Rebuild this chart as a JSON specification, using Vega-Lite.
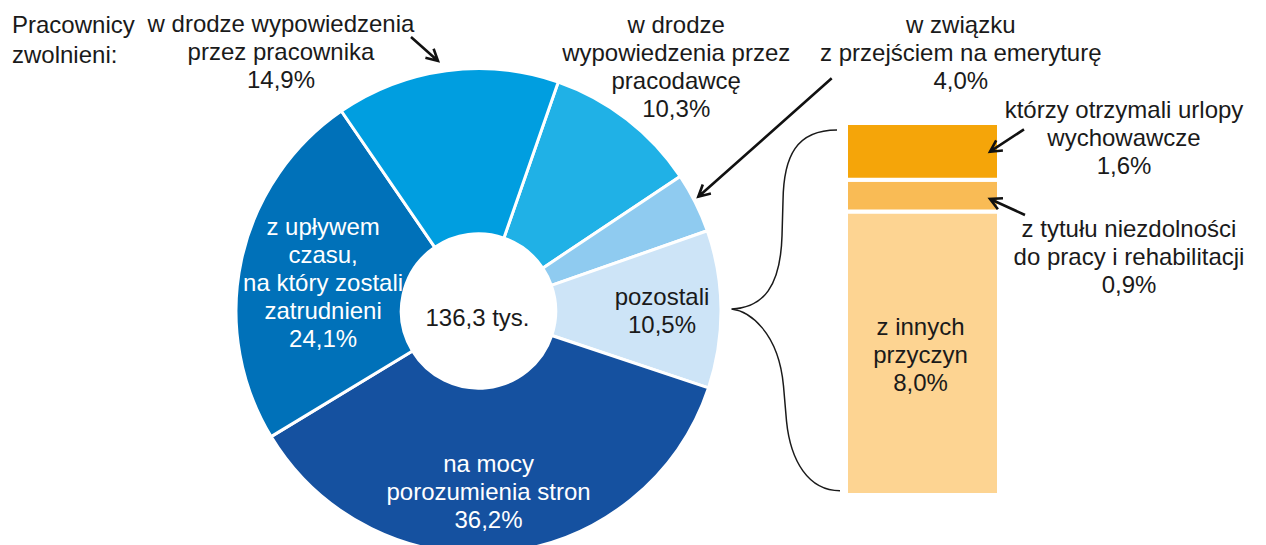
{
  "$schema": "https://vega.github.io/schema/vega-lite/v6.json",
  "width": 957,
  "height": 622,
  "padding": {"left": 0, "top": 0, "right": 309, "bottom": 0},
  "autosize": {"type": "none"},
  "background": "white",
  "config": {
    "view": {"stroke": null},
    "font": "Liberation Sans",
    "text": {"font": "Liberation Sans", "fontSize": 24, "lineHeight": 28, "lineBreak": "\n", "fill": "#1a1a1a", "baseline": "alphabetic", "align": "center"}
  },
  "datasets": {
    "ring": [
      {"rank": 1, "category": "w drodze wypowiedzenia przez pracodawcę", "share": 10.3, "label": "w drodze\nwypowiedzenia przez\npracodawcę\n10,3%"},
      {"rank": 2, "category": "w związku z przejściem na emeryturę", "share": 4.0, "label": "w związku\nz przejściem na emeryturę\n4,0%"},
      {"rank": 3, "category": "pozostali", "share": 10.5, "label": "pozostali\n10,5%"},
      {"rank": 4, "category": "na mocy porozumienia stron", "share": 36.2, "label": "na mocy\nporozumienia stron\n36,2%"},
      {"rank": 5, "category": "z upływem czasu, na który zostali zatrudnieni", "share": 24.1, "label": "z upływem\nczasu,\nna który zostali\nzatrudnieni\n24,1%"},
      {"rank": 6, "category": "w drodze wypowiedzenia przez pracownika", "share": 14.9, "label": "w drodze wypowiedzenia\nprzez pracownika\n14,9%"}
    ],
    "breakdown": [
      {"rank": 1, "group": "pozostali", "reason": "z innych przyczyn", "share": 8.0, "label": "z innych\nprzyczyn\n8,0%"},
      {"rank": 2, "group": "pozostali", "reason": "z tytułu niezdolności do pracy i rehabilitacji", "share": 0.9, "label": "z tytułu niezdolności\ndo pracy i rehabilitacji\n0,9%"},
      {"rank": 3, "group": "pozostali", "reason": "którzy otrzymali urlopy wychowawcze", "share": 1.6, "label": "którzy otrzymali urlopy\nwychowawcze\n1,6%"}
    ],
    "summary": [{"heading": "Pracownicy\nzwolnieni:", "total": "136,3 tys."}],
    "pointers": [
      {"pointer": "pracownik"},
      {"pointer": "emerytura"},
      {"pointer": "urlop"},
      {"pointer": "niezdolność"}
    ]
  },
  "layer": [
    {
      "data": {"name": "ring"},
      "encoding": {
        "theta": {"field": "share", "type": "quantitative", "stack": true, "scale": {"range": [0.3351, 6.6183]}},
        "order": {"field": "rank", "type": "quantitative"}
      },
      "layer": [
        {
          "mark": {"type": "arc", "outerRadius": 242.5, "innerRadius": 77.2, "stroke": "white", "strokeWidth": 3},
          "encoding": {
            "color": {
              "field": "category", "type": "nominal", "legend": null,
              "scale": {
                "domain": ["w drodze wypowiedzenia przez pracodawcę", "w związku z przejściem na emeryturę", "pozostali", "na mocy porozumienia stron", "z upływem czasu, na który zostali zatrudnieni", "w drodze wypowiedzenia przez pracownika"],
                "range": ["#20B1E6", "#8FCBF0", "#CDE4F7", "#1551A0", "#0071B9", "#009EE0"]
              }
            }
          }
        },
        {
          "mark": {"type": "text", "radius": 323, "dx": 0, "dy": -22.6},
          "encoding": {"text": {"condition": {"test": "datum.rank === 1", "field": "label", "type": "nominal"}, "value": ""}}
        },
        {
          "mark": {"type": "text", "radius": 539, "dx": 0, "dy": -37.3},
          "encoding": {"text": {"condition": {"test": "datum.rank === 2", "field": "label", "type": "nominal"}, "value": ""}}
        },
        {
          "mark": {"type": "text", "radius": 183.5, "dx": 0, "dy": -4.7},
          "encoding": {"text": {"condition": {"test": "datum.rank === 3", "field": "label", "type": "nominal"}, "value": ""}}
        },
        {
          "mark": {"type": "text", "radius": 179, "dx": -9.8, "dy": -16.9, "fill": "white"},
          "encoding": {"text": {"condition": {"test": "datum.rank === 4", "field": "label", "type": "nominal"}, "value": ""}}
        },
        {
          "mark": {"type": "text", "radius": 159, "dx": 0, "dy": -42.5, "fill": "white"},
          "encoding": {"text": {"condition": {"test": "datum.rank === 5", "field": "label", "type": "nominal"}, "value": ""}}
        },
        {
          "mark": {"type": "text", "radius": 265, "dx": -162.4, "dy": -16.3},
          "encoding": {"text": {"condition": {"test": "datum.rank === 6", "field": "label", "type": "nominal"}, "value": ""}}
        }
      ]
    },
    {
      "data": {"name": "breakdown"},
      "encoding": {
        "x": {"field": "group", "type": "nominal", "axis": null, "scale": {"type": "band", "range": [846, 999], "paddingInner": 0, "paddingOuter": 0}},
        "y": {"field": "share", "type": "quantitative", "stack": "zero", "axis": null, "scale": {"domain": [0, 10.5], "range": [495, 123], "nice": false}},
        "order": {"field": "rank", "type": "quantitative"}
      },
      "layer": [
        {
          "mark": {"type": "bar", "stroke": "white", "strokeWidth": 4},
          "encoding": {
            "color": {
              "field": "reason", "type": "nominal", "legend": null,
              "scale": {
                "domain": ["z innych przyczyn", "z tytułu niezdolności do pracy i rehabilitacji", "którzy otrzymali urlopy wychowawcze"],
                "range": ["#FDD492", "#F9BB55", "#F5A509"]
              }
            }
          }
        },
        {
          "mark": {"type": "text", "dx": -2, "dy": -18.3},
          "encoding": {
            "y": {"field": "share", "type": "quantitative", "stack": "zero", "bandPosition": 0.5, "axis": null, "scale": {"domain": [0, 10.5], "range": [495, 123], "nice": false}},
            "text": {"condition": {"test": "datum.rank === 1", "field": "label", "type": "nominal"}, "value": ""}
          }
        },
        {
          "mark": {"type": "text", "dx": 206.5, "dy": 41.4},
          "encoding": {
            "y": {"field": "share", "type": "quantitative", "stack": "zero", "bandPosition": 0.5, "axis": null, "scale": {"domain": [0, 10.5], "range": [495, 123], "nice": false}},
            "text": {"condition": {"test": "datum.rank === 2", "field": "label", "type": "nominal"}, "value": ""}
          }
        },
        {
          "mark": {"type": "text", "dx": 201.5, "dy": -33.3},
          "encoding": {
            "y": {"field": "share", "type": "quantitative", "stack": "zero", "bandPosition": 0.5, "axis": null, "scale": {"domain": [0, 10.5], "range": [495, 123], "nice": false}},
            "text": {"condition": {"test": "datum.rank === 3", "field": "label", "type": "nominal"}, "value": ""}
          }
        }
      ]
    },
    {
      "data": {"name": "summary"},
      "mark": {"type": "text", "dx": -1, "dy": 15},
      "encoding": {"text": {"field": "total", "type": "nominal"}}
    },
    {
      "data": {"name": "summary"},
      "mark": {"type": "text", "align": "left", "dx": -466.5, "dy": -278, "lineHeight": 29.5},
      "encoding": {"text": {"field": "heading", "type": "nominal"}}
    },
    {
      "data": {"values": [{"spans": "pozostali"}]},
      "mark": {
        "type": "point", "size": 4, "filled": false, "opacity": 1, "stroke": "#1a1a1a", "strokeWidth": 1.5,
        "shape": "M 358.5 -181 C 318 -181 305 -155 304.5 -110 L 303.5 -75 C 302 -25 285 -3 253 -2 C 270 0 300 20 305 75 L 308 110 C 312 150 330 179.7 361.5 179.7"
      },
      "encoding": {}
    },
    {
      "data": {"name": "pointers"},
      "mark": {"type": "point", "size": 4, "filled": false, "opacity": 1, "stroke": "#111111", "strokeWidth": 2.6, "strokeJoin": "miter"},
      "encoding": {
        "shape": {
          "field": "pointer", "type": "nominal", "legend": null,
          "scale": {
            "domain": ["pracownik", "emerytura", "urlop", "niezdolność"],
            "range": [
              "M -67.5 -274 L -40.5 -250 M -44.9 -262.2 L -40.5 -250 L -53.1 -253.2",
              "M 353.2 -232.7 L 219.8 -114.3 M 232.4 -117.4 L 219.8 -114.3 L 224.3 -126.5",
              "M 545.5 -181.7 L 511.5 -159.3 M 524.4 -160.5 L 511.5 -159.3 L 517.7 -170.7",
              "M 546.5 -96 L 511.5 -112 M 519.4 -101.7 L 511.5 -112 L 524.5 -112.8"
            ]
          }
        }
      }
    }
  ],
  "resolve": {"scale": {"color": "independent", "shape": "independent"}}
}
